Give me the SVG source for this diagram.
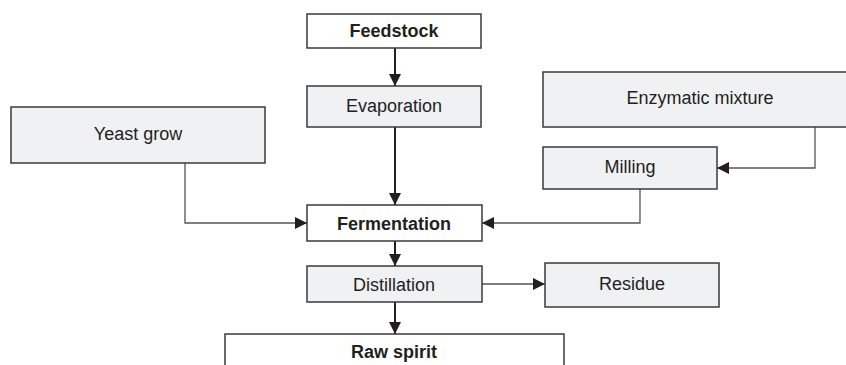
<svg xmlns="http://www.w3.org/2000/svg" width="846" height="365" viewBox="0 0 846 365">
<defs>
<style>
.box{stroke:#3a3a3a;stroke-width:1.5}
.w{fill:#ffffff}
.g{fill:#f0f1f3}
.t{font-family:"Liberation Sans",Arial,sans-serif;font-size:18px;fill:#231f20;text-anchor:middle}
.b{font-weight:bold}
.main{fill:none;stroke:#231f20;stroke-width:2}
.side{fill:none;stroke:#555555;stroke-width:1.3}
</style>
<marker id="ah" viewBox="0 0 12 12" refX="12" refY="6" markerWidth="12" markerHeight="12" markerUnits="userSpaceOnUse" orient="auto">
<path d="M0,0 L12,6 L0,12 Z" fill="#231f20"/>
</marker>
</defs>
<rect width="846" height="365" fill="#ffffff"/>
<g id="connectors">
<path class="main" d="M395,48 V86" marker-end="url(#ah)"/>
<path class="main" d="M395,127 V205" marker-end="url(#ah)"/>
<path class="main" d="M395,241 V266" marker-end="url(#ah)"/>
<path class="main" d="M395,302 V334" marker-end="url(#ah)"/>
<path class="side" d="M185,163 V223 H307" marker-end="url(#ah)"/>
<path class="side" d="M640,189 V223 H482" marker-end="url(#ah)"/>
<path class="side" d="M815,127 V168 H717" marker-end="url(#ah)"/>
<path class="side" d="M482,284 H545" marker-end="url(#ah)"/>
</g>
<g id="feedstock"><rect class="box w" x="307" y="14" width="174" height="34"/><text class="t b" x="394" y="37">Feedstock</text></g>
<g id="evaporation"><rect class="box g" x="307" y="86" width="174" height="41"/><text class="t" x="394" y="112">Evaporation</text></g>
<g id="yeast"><rect class="box g" x="11" y="107" width="254" height="56"/><text class="t" x="138" y="140">Yeast grow</text></g>
<g id="enzymatic"><rect class="box g" x="543" y="72" width="314" height="55"/><text class="t" x="700" y="104">Enzymatic mixture</text></g>
<g id="milling"><rect class="box g" x="543" y="147" width="174" height="42"/><text class="t" x="630" y="173">Milling</text></g>
<g id="fermentation"><rect class="box w" x="307" y="205" width="175" height="36"/><text class="t b" x="394" y="230">Fermentation</text></g>
<g id="distillation"><rect class="box g" x="307" y="266" width="175" height="36"/><text class="t" x="394" y="291">Distillation</text></g>
<g id="residue"><rect class="box g" x="545" y="263" width="174" height="44"/><text class="t" x="632" y="290">Residue</text></g>
<g id="rawspirit"><rect class="box w" x="225" y="334" width="339" height="40"/><text class="t b" x="394" y="358">Raw spirit</text></g>
</svg>
